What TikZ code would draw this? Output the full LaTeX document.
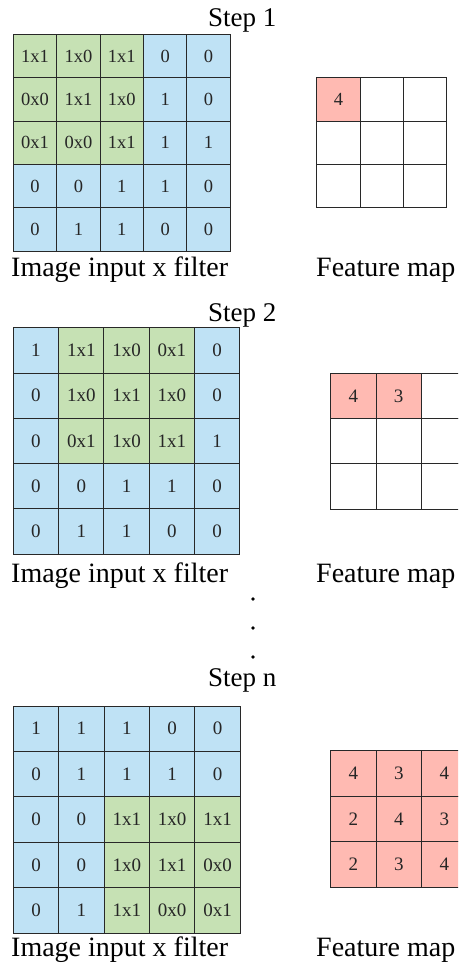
\documentclass[tikz,border=0pt]{standalone}
\usepackage{fontspec}
\setmainfont{Liberation Serif}
\definecolor{cb}{RGB}{191,226,245}
\definecolor{cg}{RGB}{198,225,180}
\definecolor{cp}{RGB}{255,186,178}
\definecolor{cw}{RGB}{255,255,255}
\definecolor{ln}{RGB}{40,40,40}
\tikzset{
  cellbox/.style={draw=ln, line width=1pt, rectangle, inner sep=0pt, text=black!85},
  biglabel/.style={inner sep=0pt, font=\fontsize{28}{30}\selectfont},
  steplabel/.style={inner sep=0pt, font=\fontsize{27}{29}\selectfont},
}
\newcommand{\cellgrid}[7]{%
  \foreach \t/\c [count=\i from 0] in {#6}{%
    \pgfmathtruncatemacro{\rr}{div(\i,#5)}%
    \pgfmathtruncatemacro{\kk}{mod(\i,#5)}%
    \node[cellbox, fill=\c, minimum size=#4pt, font=\fontsize{#7}{#7}\selectfont]
      (#1-\rr-\kk) at ({#2+(\kk+0.5)*#4},{#3+(\rr+0.5)*#4}) {\t};
  }}
\begin{document}
\begin{tikzpicture}[x=1pt,y=-1pt]
\useasboundingbox (0,0) rectangle (458,963);
\clip (0,0) rectangle (458,963);
% ---------- Step 1 ----------
\node[steplabel, anchor=base west] (s1) at (208,26.5) {Step 1};
\cellgrid{a}{13.3}{34.3}{43.4}{5}{1x1/cg,1x0/cg,1x1/cg,0/cb,0/cb,
  0x0/cg,1x1/cg,1x0/cg,1/cb,0/cb,
  0x1/cg,0x0/cg,1x1/cg,1/cb,1/cb,
  0/cb,0/cb,1/cb,1/cb,0/cb,
  0/cb,1/cb,1/cb,0/cb,0/cb}{18.5}
\cellgrid{fa}{316.7}{77.7}{43.4}{3}{4/cp,{}/cw,{}/cw,{}/cw,{}/cw,{}/cw,{}/cw,{}/cw,{}/cw}{18.5}
\node[biglabel, anchor=base west] (ia) at (11,276) {Image input x filter};
\node[biglabel, anchor=base west] (fma) at (316,276) {Feature map};
% ---------- Step 2 ----------
\node[steplabel, anchor=base west] (s2) at (208,321) {Step 2};
\cellgrid{b}{13.3}{327.7}{45.3}{5}{1/cb,1x1/cg,1x0/cg,0x1/cg,0/cb,
  0/cb,1x0/cg,1x1/cg,1x0/cg,0/cb,
  0/cb,0x1/cg,1x0/cg,1x1/cg,1/cb,
  0/cb,0/cb,1/cb,1/cb,0/cb,
  0/cb,1/cb,1/cb,0/cb,0/cb}{19}
\cellgrid{fb}{330.7}{373.3}{45.3}{3}{4/cp,3/cp,{}/cw,{}/cw,{}/cw,{}/cw,{}/cw,{}/cw,{}/cw}{19}
\node[biglabel, anchor=base west] (ib) at (11,582) {Image input x filter};
\node[biglabel, anchor=base west] (fmb) at (316,582) {Feature map};
% ---------- dots ----------
\fill[black] (253,599) circle (1.8);
\fill[black] (253,628) circle (1.8);
\fill[black] (253,657) circle (1.8);
% ---------- Step n ----------
\node[steplabel, anchor=base west] (sn) at (208,686) {Step n};
\cellgrid{c}{13.3}{706}{45.4}{5}{1/cb,1/cb,1/cb,0/cb,0/cb,
  0/cb,1/cb,1/cb,1/cb,0/cb,
  0/cb,0/cb,1x1/cg,1x0/cg,1x1/cg,
  0/cb,0/cb,1x0/cg,1x1/cg,0x0/cg,
  0/cb,1/cb,1x1/cg,0x0/cg,0x1/cg}{19}
\cellgrid{fc}{330.7}{750.7}{45.5}{3}{4/cp,3/cp,4/cp,2/cp,4/cp,3/cp,2/cp,3/cp,4/cp}{19}
\node[biglabel, anchor=base west] (ic) at (11,956) {Image input x filter};
\node[biglabel, anchor=base west] (fmc) at (316,956) {Feature map};
\end{tikzpicture}
\end{document}
